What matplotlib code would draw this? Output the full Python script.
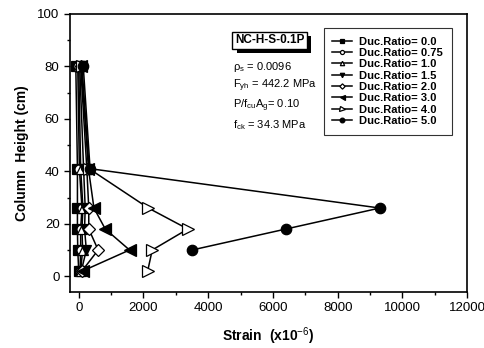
import numpy as np
import matplotlib.pyplot as plt
import matplotlib.patheffects as pe
from matplotlib.ticker import MultipleLocator

plt.rcParams['font.family'] = ['Liberation Sans', 'DejaVu Sans']
plt.rcParams['mathtext.fontset'] = 'custom'
plt.rcParams['mathtext.rm'] = 'Liberation Sans'
plt.rcParams['mathtext.it'] = 'Liberation Sans'

# column heights (cm) and strain (x10^-6) for each ductility ratio
heights = [80, 41, 26, 18, 10, 2]
strain_00 = [-90, -40, -40, -40, -30, 0]
strain_075 = [-30, 20, 100, 60, 60, 40]
strain_10 = [0, 60, 130, 100, 120, 60]
strain_15 = [30, 150, 200, 180, 235, 80]
strain_20 = [60, 250, 310, 310, 600, 100]
strain_30 = [80, 300, 470, 820, 1570, 120]
strain_40 = [100, 320, 2150, 3370, 2270, 2130]
strain_50 = [140, 350, 9300, 6400, 3500, np.nan]

labels = ["Duc.Ratio= 0.0", "Duc.Ratio= 0.75", "Duc.Ratio= 1.0", "Duc.Ratio= 1.5",
          "Duc.Ratio= 2.0", "Duc.Ratio= 3.0", "Duc.Ratio= 4.0", "Duc.Ratio= 5.0"]
series = [strain_00, strain_075, strain_10, strain_15, strain_20, strain_30, strain_40, strain_50]
markers = ['s', 'o', '^', 'v', 'D', '<', '>', 'o']
filled = [True, False, False, True, False, True, False, True]
msizes = [6.5, 6.5, 7, 7, 6, 8, 8, 7.5]

fig = plt.figure(figsize=(4.85, 3.48), dpi=100)
ax = fig.add_axes([0.1443, 0.161, 0.819, 0.799])

for s, lab, m, f, ms in zip(series, labels, markers, filled, msizes):
    ax.plot(s, heights, color='black', lw=1.1, marker=m, ms=ms,
            mfc='black' if f else 'white', mec='black', mew=0.9, label=lab)

ax.set_xlim(-270, 12000)
ax.set_ylim(-6, 100)
ax.xaxis.set_major_locator(MultipleLocator(2000))
ax.xaxis.set_minor_locator(MultipleLocator(1000))
ax.yaxis.set_major_locator(MultipleLocator(20))
ax.yaxis.set_minor_locator(MultipleLocator(10))
ax.tick_params(which='both', direction='out', labelsize=9.5, width=1)
ax.tick_params(which='major', length=4)
ax.tick_params(which='minor', length=2.5)
for sp in ax.spines.values():
    sp.set_linewidth(1.2)

ax.set_xlabel("Strain  (x10$^{-6}$)", fontsize=10, fontweight='bold', labelpad=8)
ax.set_ylabel("Column  Height (cm)", fontsize=10, fontweight='bold', labelpad=6)

# title box with drop shadow
title = ax.text(0.415, 0.905, "NC-H-S-0.1P", transform=ax.transAxes, fontsize=8.5,
                fontweight='bold', ha='left', va='center',
                bbox=dict(boxstyle='square,pad=0.2', fc='white', ec='black', lw=1))
title.get_bbox_patch().set_path_effects([
    pe.SimplePatchShadow(offset=(3, -3), shadow_rgbFace='black', alpha=1.0),
    pe.Normal()])

params = ["$\\rho_\\mathrm{s}$ = 0.0096", "F$_\\mathrm{yh}$ = 442.2 MPa",
          "P/f$_\\mathrm{cu}$A$_\\mathrm{g}$= 0.10", "f$_\\mathrm{ck}$ = 34.3 MPa"]
for i, t in enumerate(params):
    ax.text(0.41, 0.81 - i * 0.07, t, transform=ax.transAxes, fontsize=8, va='center')

leg = ax.legend(loc='upper right', bbox_to_anchor=(0.975, 0.97),
                prop={'weight': 'bold', 'size': 8}, markerscale=0.45, handlelength=1.8,
                handletextpad=0.6, labelspacing=0.12, frameon=True, fancybox=False,
                borderpad=0.8)
leg.get_frame().set_edgecolor('black')
leg.get_frame().set_linewidth(0.8)

fig.savefig('out.png', dpi=100)
